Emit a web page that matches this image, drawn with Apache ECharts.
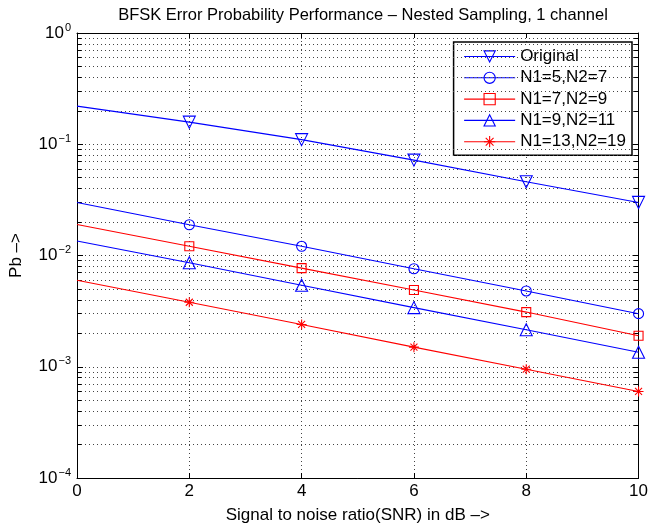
<!DOCTYPE html>
<html>
<head>
<meta charset="utf-8">
<script src="https://cdn.jsdelivr.net/npm/echarts@6/dist/echarts.min.js"></script>
<style>
  html, body { margin: 0; padding: 0; background: #fff; }
  #chart { width: 651px; height: 529px; }
</style>
</head>
<body>
<div id="chart"></div>
<script>
// SNR points (dB) at which the bit-error probability was evaluated
const snrDb = [0, 2, 4, 6, 8, 10];

// Bit-error probability for each sampling configuration
const pbOriginal = [0.22, 0.158, 0.11, 0.072, 0.046, 0.030];
const pbN5N7     = [0.030, 0.0189, 0.0121, 0.0076, 0.0048, 0.0030];
const pbN7N9     = [0.019, 0.0121, 0.0077, 0.0049, 0.0031, 0.0019];
const pbN9N11    = [0.0135, 0.0086, 0.0054, 0.0034, 0.00215, 0.00135];
const pbN13N19   = [0.0060, 0.0038, 0.0024, 0.00150, 0.00095, 0.00060];

const seriesNames = ['Original', 'N1=5,N2=7', 'N1=7,N2=9', 'N1=9,N2=11', 'N1=13,N2=19'];

// Decade ticks of the Pb axis and the minor (2..9) positions in between
const decadeTicks = [1e-4, 1e-3, 1e-2, 1e-1, 1];
const minorTicks = [];
for (let d = 0; d < decadeTicks.length - 1; d++) {
  for (let m = 2; m <= 9; m++) minorTicks.push(+(decadeTicks[d] * m).toPrecision(3));
}

const BLUE = '#0000ff';
const RED = '#ff0000';
const FONT = '"Liberation Sans", Arial, Helvetica, sans-serif';
const FS = 17;

// Asterisk marker: plus and cross drawn as strokes
const asterisk = 'path://M5,0L5,10M0,5L10,5M1.5,1.5L8.5,8.5M1.5,8.5L8.5,1.5';

function points(values) {
  return snrDb.map((x, i) => i === 0
    ? { value: [x, values[i]], symbol: 'none' }
    : [x, values[i]]);
}

function curve(name, values, color, symbol, size, rotate) {
  return {
    name: name,
    type: 'line',
    data: points(values),
    color: color,
    symbol: symbol,
    symbolSize: size,
    symbolRotate: rotate || 0,
    symbolKeepAspect: true,
    showAllSymbol: true,
    lineStyle: { color: color, width: 1.1 },
    itemStyle: { color: 'rgba(0,0,0,0)', borderColor: color, borderWidth: 1.1 },
    emphasis: { disabled: true },
    z: 5
  };
}

// Dotted minor grid lines and short inside minor ticks on both frame sides,
// all placed through the log scale as coordinate pairs
const minorLines = minorTicks.flatMap(v => [
  [{ coord: [0, v], lineStyle: { color: '#444', type: [1, 3], width: 1 } },
   { coord: [10, v] }],
  [{ coord: [0, v], lineStyle: { color: '#000', type: 'solid', width: 1 } },
   { coord: [0.08, v] }],
  [{ coord: [9.92, v], lineStyle: { color: '#000', type: 'solid', width: 1 } },
   { coord: [10, v] }]
]);

const seriesList = [
  curve(seriesNames[0], pbOriginal, BLUE, 'triangle', 12, 180),
  curve(seriesNames[1], pbN5N7, BLUE, 'circle', 10),
  curve(seriesNames[2], pbN7N9, RED, 'rect', 9),
  curve(seriesNames[3], pbN9N11, BLUE, 'triangle', 12),
  curve(seriesNames[4], pbN13N19, RED, asterisk, 10)
];
seriesList[0].markLine = {
  silent: true,
  symbol: 'none',
  animation: false,
  label: { show: false },
  emphasis: { disabled: true },
  data: minorLines
};

const chart = echarts.init(document.getElementById('chart'), null, { renderer: 'canvas' });

chart.setOption({
  animation: false,
  backgroundColor: '#fff',
  title: {
    text: 'BFSK Error Probability Performance – Nested Sampling, 1 channel',
    left: 358,
    textAlign: 'center',
    top: 2,
    textStyle: { fontFamily: FONT, fontSize: 16.5, fontWeight: 'normal', color: '#000' }
  },
  legend: {
    orient: 'vertical',
    right: 19,
    top: 42,
    data: seriesNames,
    backgroundColor: '#fff',
    borderColor: '#000',
    borderWidth: 1.5,
    padding: [6, 6, 5, 10],
    itemWidth: 51,
    itemHeight: 14,
    itemGap: 4.3,
    selectedMode: false,
    lineStyle: { width: 1.1 },
    itemStyle: { borderWidth: 1.1 },
    textStyle: { fontFamily: FONT, fontSize: FS, color: '#000' }
  },
  grid: { left: 76, right: 11, top: 33, bottom: 51, containLabel: false },
  xAxis: [{
    type: 'value',
    min: 0, max: 10, interval: 2,
    name: 'Signal to noise ratio(SNR) in dB –>',
    nameLocation: 'middle',
    nameGap: 29,
    nameTextStyle: { fontFamily: FONT, fontSize: FS, color: '#000' },
    axisLine: { show: true, onZero: false, lineStyle: { color: '#000', width: 1 } },
    axisTick: { show: true, inside: true, length: 5, lineStyle: { color: '#000' } },
    axisLabel: { fontFamily: FONT, fontSize: FS, color: '#000', margin: 5 },
    splitLine: { show: true, lineStyle: { color: '#444', type: [1, 3], width: 1 } }
  }, {
    type: 'value',
    position: 'top',
    min: 0, max: 10, interval: 2,
    axisLine: { show: true, onZero: false, lineStyle: { color: '#000', width: 1 } },
    axisTick: { show: true, inside: true, length: 5, lineStyle: { color: '#000' } },
    axisLabel: { show: false },
    splitLine: { show: false }
  }],
  yAxis: [{
    type: 'log',
    logBase: 10,
    min: 1e-4, max: 1,
    name: 'Pb –>',
    nameLocation: 'middle',
    nameGap: 52,
    nameTextStyle: { fontFamily: FONT, fontSize: FS, color: '#000' },
    axisLine: { show: true, onZero: false, lineStyle: { color: '#000', width: 1 } },
    axisTick: { show: true, inside: true, length: 6, lineStyle: { color: '#000' } },
    axisLabel: {
      margin: 6,
      formatter: v => {
        const e = Math.round(Math.log10(v));
        return '{b|10}{s|' + (e < 0 ? '−' + (-e) : e) + '}';
      },
      rich: {
        b: { fontFamily: FONT, fontSize: FS, color: '#000' },
        s: { fontFamily: FONT, fontSize: 11, color: '#000', padding: [0, 0, 11, 1] }
      }
    },
    splitLine: { show: true, lineStyle: { color: '#444', type: [1, 3], width: 1 } }
  }, {
    type: 'log',
    logBase: 10,
    min: 1e-4, max: 1,
    position: 'right',
    axisLine: { show: true, onZero: false, lineStyle: { color: '#000', width: 1 } },
    axisTick: { show: true, inside: true, length: 6, lineStyle: { color: '#000' } },
    axisLabel: { show: false },
    splitLine: { show: false }
  }],
  series: seriesList
});
</script>
</body>
</html>
